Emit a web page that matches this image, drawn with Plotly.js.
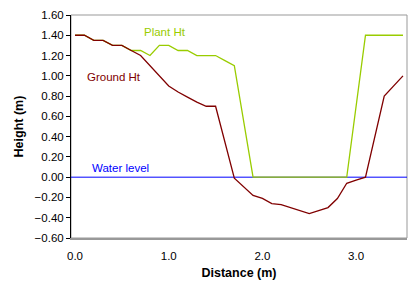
<!DOCTYPE html>
<html><head><meta charset="utf-8">
<script src="https://cdn.plot.ly/plotly-3.0.1.min.js"></script>
<style>html,body{margin:0;padding:0;background:#fff}#chart{width:409px;height:282px}</style>
</head><body><div id="chart"></div>
<script>
const groundX = [0.0,0.1,0.2,0.3,0.4,0.5,0.6,0.7,1.0,1.1,1.2,1.3,1.4,1.5,1.7,1.9,2.0,2.1,2.2,2.3,2.4,2.5,2.6,2.7,2.8,2.9,3.0,3.1,3.3,3.5];
const groundY = [1.40,1.40,1.35,1.35,1.30,1.30,1.25,1.20,0.90,0.84,0.79,0.74,0.70,0.70,-0.01,-0.18,-0.21,-0.26,-0.27,-0.30,-0.33,-0.36,-0.33,-0.30,-0.21,-0.06,-0.03,0.00,0.80,1.00];
const plantX = [0.0,0.1,0.2,0.3,0.4,0.5,0.6,0.7,0.8,0.9,1.0,1.1,1.2,1.3,1.4,1.5,1.6,1.7,1.9,2.0,2.1,2.2,2.3,2.4,2.5,2.6,2.7,2.8,2.9,3.1,3.3,3.5];
const plantY = [1.40,1.40,1.35,1.35,1.30,1.30,1.25,1.25,1.20,1.30,1.30,1.25,1.25,1.20,1.20,1.20,1.15,1.10,0.00,0.00,0.00,0.00,0.00,0.00,0.00,0.00,0.00,0.00,0.00,1.40,1.40,1.40];
const waterX = [-0.043,3.543];
const waterY = [0.00,0.00];
const labels = ["Plant Ht","Ground Ht","Water level"];

const fam = "Liberation Sans, Arial, sans-serif";
const font = {family:fam, size:11.5, color:"#000"};
const traces = [
  {x:waterX, y:waterY, mode:"lines", line:{color:"#0000ff", width:1}, hoverinfo:"skip"},
  {x:plantX, y:plantY, mode:"lines", line:{color:"#99cc00", width:1.3}},
  {x:groundX, y:groundY, mode:"lines", line:{color:"#800000", width:1.3}}
];
const layout = {
  width:409, height:282,
  margin:{l:71, r:2, t:15, b:44},
  paper_bgcolor:"#fff", plot_bgcolor:"#fff",
  showlegend:false,
  font:font,
  xaxis:{range:[-0.043,3.543], dtick:1, tick0:0, tickformat:".1f", showgrid:false, zeroline:false,
         showline:true, linecolor:"#999", linewidth:2, ticks:"", ticklabelstandoff:6,
         title:{text:"<b>Distance (m)</b>", font:{family:fam, size:12.5}, standoff:7}},
  yaxis:{range:[-0.6,1.6], dtick:0.2, tick0:0, tickformat:".2f", showgrid:false, zeroline:false,
         showline:true, linecolor:"#000", linewidth:1, ticks:"outside", ticklen:4, tickcolor:"#000",
         title:{text:"<b>Height (m)</b>", font:{family:fam, size:12.5}, standoff:8}},
  shapes:[{type:"rect", xref:"paper", yref:"paper", x0:0, x1:1, y0:0, y1:1, line:{color:"#999", width:1}, layer:"below"}],
  annotations:[
    {x:0.96, y:1.43, text:labels[0], showarrow:false, font:{family:fam, size:11.5, color:"#99cc00"}},
    {x:0.42, y:0.99, text:labels[1], showarrow:false, font:{family:fam, size:11.5, color:"#800000"}},
    {x:0.48, y:0.09, text:labels[2], showarrow:false, font:{family:fam, size:11.5, color:"#0000ff"}}
  ]
};
Plotly.newPlot("chart", traces, layout, {displayModeBar:false, staticPlot:true});
</script></body></html>
